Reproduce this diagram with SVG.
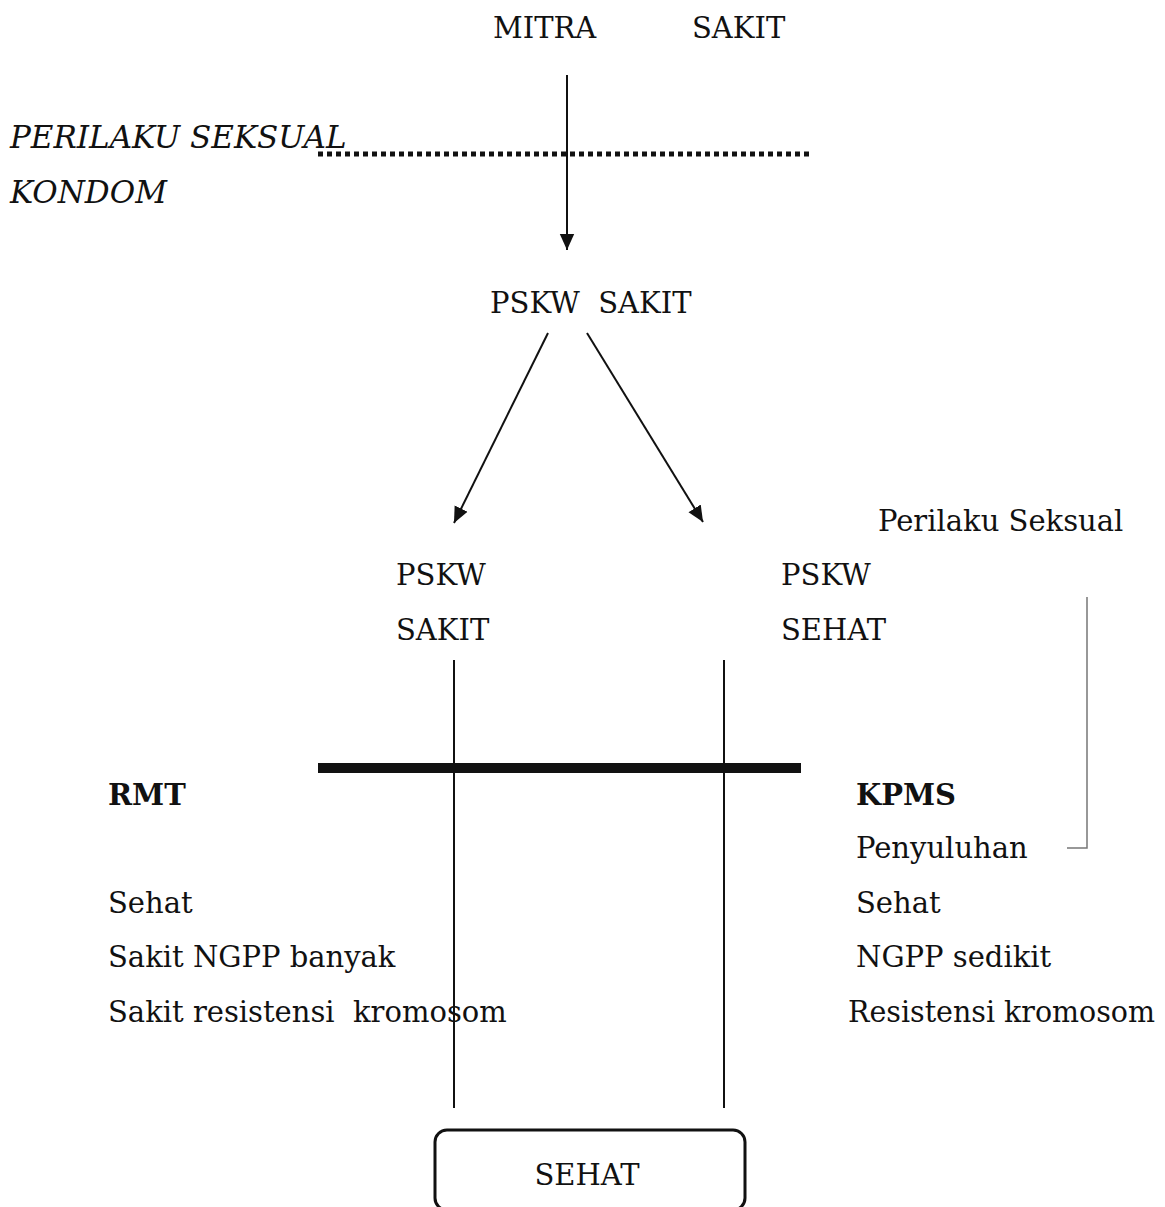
<svg xmlns="http://www.w3.org/2000/svg" width="1165" height="1207" viewBox="0 0 1165 1207">
  <style>
    text { font-family: "DejaVu Serif", "Liberation Serif", serif; font-size: 29px; fill: #111; }
    .it { font-style: italic; font-size: 31px; }
    .b { font-weight: bold; }
    .ln { stroke: #111; stroke-width: 2; fill: none; }
  </style>
  <defs>
    <marker id="arr" viewBox="0 0 10 10" refX="10" refY="5" markerWidth="8" markerHeight="8" orient="auto" markerUnits="strokeWidth">
      <path d="M0,0.5 L10,5 L0,9.5 z" fill="#111"/>
    </marker>
  </defs>
  <rect width="1165" height="1207" fill="#fff"/>

  <g id="connectors">
    <line class="ln" x1="567" y1="75" x2="567" y2="250" marker-end="url(#arr)"/>
    <line x1="318" y1="154" x2="812" y2="154" stroke="#111" stroke-width="5" stroke-dasharray="5 4"/>
    <line class="ln" x1="548" y1="333" x2="454" y2="523" marker-end="url(#arr)"/>
    <line class="ln" x1="587" y1="333" x2="703" y2="522" marker-end="url(#arr)"/>
    <line class="ln" x1="454" y1="660" x2="454" y2="1108"/>
    <line class="ln" x1="724" y1="660" x2="724" y2="1108"/>
    <line x1="318" y1="768" x2="801" y2="768" stroke="#111" stroke-width="10"/>
    <polyline points="1087,597 1087,848 1067,848" fill="none" stroke="#777" stroke-width="1.5"/>
  </g>

  <g id="mitra-sakit">
    <text x="493" y="38">MITRA</text>
    <text x="692" y="38">SAKIT</text>
  </g>
  <g id="perilaku-kondom">
    <text class="it" x="10" y="148">PERILAKU SEKSUAL</text>
    <text class="it" x="10" y="203">KONDOM</text>
  </g>
  <g id="pskw-sakit-top">
    <text x="490" y="313" xml:space="preserve">PSKW  SAKIT</text>
  </g>
  <g id="perilaku-seksual">
    <text x="878" y="531">Perilaku Seksual</text>
  </g>
  <g id="pskw-sakit">
    <text x="396" y="585">PSKW</text>
    <text x="396" y="640">SAKIT</text>
  </g>
  <g id="pskw-sehat">
    <text x="781" y="585">PSKW</text>
    <text x="781" y="640">SEHAT</text>
  </g>
  <g id="rmt">
    <text class="b" x="108" y="805">RMT</text>
    <text x="108" y="913">Sehat</text>
    <text x="108" y="967">Sakit NGPP banyak</text>
    <text x="108" y="1022" xml:space="preserve">Sakit resistensi  kromosom</text>
  </g>
  <g id="kpms">
    <text class="b" x="856" y="805">KPMS</text>
    <text x="856" y="858">Penyuluhan</text>
    <text x="856" y="913">Sehat</text>
    <text x="856" y="967">NGPP sedikit</text>
    <text x="848" y="1022" textLength="307" lengthAdjust="spacingAndGlyphs">Resistensi kromosom</text>
  </g>
  <g id="sehat">
    <rect x="435" y="1130" width="310" height="80" rx="12" fill="none" stroke="#111" stroke-width="3"/>
    <text x="587" y="1185" text-anchor="middle">SEHAT</text>
  </g>
</svg>
